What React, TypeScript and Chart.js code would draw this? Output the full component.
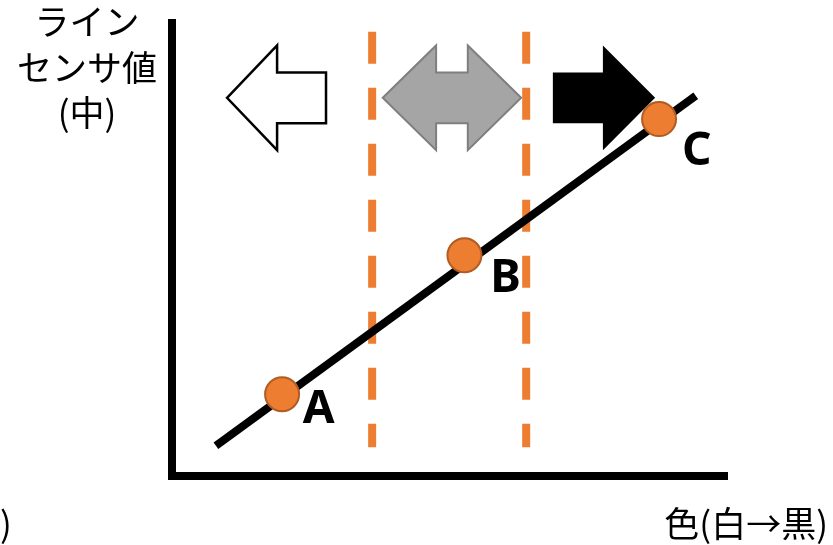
import React, { useEffect, useRef } from "react";
import { Chart, registerables } from "chart.js";

Chart.register(...registerables);

// Data in chart units: x = colour (white→black), y = line sensor value
const trendLine = [
  { x: 7.9, y: 6.6 },
  { x: 94.2, y: 83.2 },
];
const pointLabels = ["A", "B", "C"];
const pointValues = [
  { x: 19.8, y: 17.9 },
  { x: 52.6, y: 48.3 },
  { x: 87.6, y: 78.1 },
];
const thresholds = [36.0, 63.7];
const thresholdRange = [97.2, 6.3];
const yAxisTitle = ["ライン", "センサ値", "(中)"];
const xAxisTitle = "色(白→黒)";

const ORANGE = "#ED7D31";

const diagramPlugin = {
  id: "diagram",
  beforeDatasetsDraw(chart: any) {
    const { ctx, chartArea, scales } = chart;
    const xs = scales.x;
    const ys = scales.y;
    const X = (v: number) => xs.getPixelForValue(v);
    const Y = (v: number) => ys.getPixelForValue(v);
    ctx.save();
    // axes
    ctx.fillStyle = "#000";
    ctx.fillRect(chartArea.left - 4, chartArea.top, 8, chartArea.bottom - chartArea.top + 4);
    ctx.fillRect(chartArea.left - 4, chartArea.bottom - 4, chartArea.right - chartArea.left + 4, 8);

    const yc = 82.75, hh = 11.46, sh = 5.57;
    // left hollow arrow
    const poly = (pts: number[][], fill: string, stroke: string, lw: number) => {
      ctx.beginPath();
      pts.forEach((p, i) => (i ? ctx.lineTo(X(p[0]), Y(p[1])) : ctx.moveTo(X(p[0]), Y(p[1]))));
      ctx.closePath();
      ctx.fillStyle = fill;
      ctx.fill();
      if (lw > 0) {
        ctx.lineWidth = lw;
        ctx.strokeStyle = stroke;
        ctx.lineJoin = "miter";
        ctx.stroke();
      }
    };
    poly(
      [
        [9.9, yc],
        [18.9, yc + hh],
        [18.9, yc + sh],
        [27.7, yc + sh],
        [27.7, yc - sh],
        [18.9, yc - sh],
        [18.9, yc - hh],
      ],
      "#fff",
      "#000",
      2.5
    );
    // grey double arrow
    poly(
      [
        [37.9, yc],
        [47.5, yc + hh],
        [47.5, yc + sh],
        [53.2, yc + sh],
        [53.2, yc + hh],
        [62.8, yc],
        [53.2, yc - hh],
        [53.2, yc - sh],
        [47.5, yc - sh],
        [47.5, yc - hh],
      ],
      "#A5A5A5",
      "#7F7F7F",
      2
    );
    // black right arrow
    poly(
      [
        [68.5, yc + sh],
        [77.5, yc + sh],
        [77.5, yc + hh],
        [86.9, yc],
        [77.5, yc - hh],
        [77.5, yc - sh],
        [68.5, yc - sh],
      ],
      "#000",
      "#000",
      0
    );
    ctx.restore();
  },
  afterDatasetsDraw(chart: any) {
    const { ctx, scales } = chart;
    const X = (v: number) => scales.x.getPixelForValue(v);
    const Y = (v: number) => scales.y.getPixelForValue(v);
    ctx.save();
    // point labels
    const offsets = [
      [6.6, -2.5],
      [7.4, -4.4],
      [6.8, -6.3],
    ];
    ctx.fillStyle = "#000";
    ctx.font = "bold 46px 'Noto Sans', 'Open Sans', sans-serif";
    ctx.textAlign = "center";
    ctx.textBaseline = "alphabetic";
    pointValues.forEach((p, i) => {
      ctx.fillText(pointLabels[i], X(p.x + offsets[i][0]), Y(p.y + offsets[i][1]) + 17);
    });
    // axis titles
    ctx.font = "35px 'Noto Sans CJK JP', sans-serif";
    ctx.textBaseline = "middle";
    ctx.textAlign = "center";
    yAxisTitle.forEach((t, i) => ctx.fillText(t, 87, 22 + i * 45.5));
    ctx.textAlign = "right";
    ctx.fillText(xAxisTitle, 828, 524);
    ctx.textAlign = "left";
    ctx.fillText(")", 0, 524);
    ctx.restore();
  },
};

export default function App() {
  const ref = useRef<HTMLCanvasElement>(null);
  useEffect(() => {
    if (!ref.current) return;
    const chart = new Chart(ref.current, {
      type: "scatter",
      data: {
        datasets: [
          {
            type: "scatter",
            data: pointValues,
            pointRadius: 17,
            pointBorderWidth: 2,
            pointBackgroundColor: ORANGE,
            pointBorderColor: "#B05C22",
            order: 0,
          } as any,
          {
            type: "line",
            data: trendLine,
            borderColor: "#000",
            borderWidth: 8,
            borderCapStyle: "butt",
            pointRadius: 0,
            order: 1,
          },
          ...thresholds.map((t) => ({
            type: "line" as const,
            data: thresholdRange.map((y) => ({ x: t, y })),
            borderColor: ORANGE,
            borderWidth: 8,
            borderDash: [32, 24],
            borderCapStyle: "butt" as const,
            pointRadius: 0,
            order: 2,
          })),
        ],
      },
      options: {
        animation: false,
        responsive: false,
        events: [],
        layout: { padding: { left: 172, right: 105, top: 18, bottom: 69 } },
        scales: {
          x: { type: "linear", min: 0, max: 100, display: false },
          y: { type: "linear", min: 0, max: 100, display: false },
        },
        plugins: { legend: { display: false }, tooltip: { enabled: false } },
      },
      plugins: [diagramPlugin],
    });
    return () => chart.destroy();
  }, []);
  return (
    <div style={{ position: "fixed", left: 0, top: 0, width: 833, height: 545, background: "#fff" }}>
      <canvas ref={ref} width={833} height={545} />
    </div>
  );
}
